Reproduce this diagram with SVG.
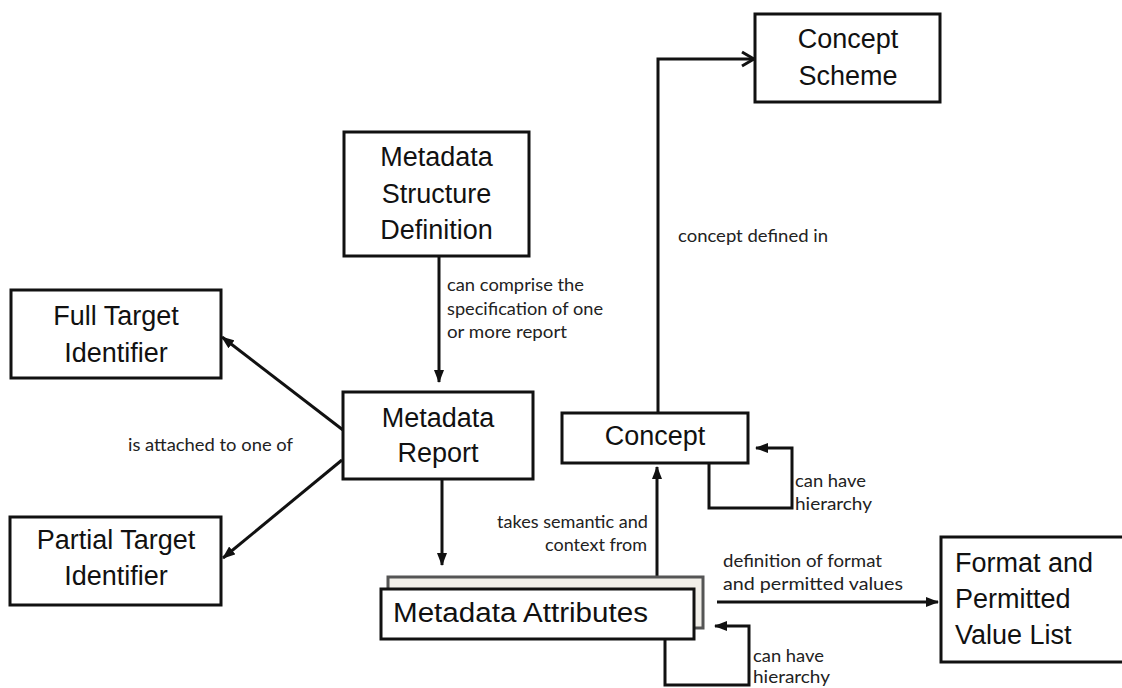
<svg xmlns="http://www.w3.org/2000/svg" width="1122" height="688" viewBox="0 0 1122 688">
<style>
.box{fill:#fff;stroke:#111;stroke-width:3}
.back{fill:#f1efe9;stroke:#555;stroke-width:3}
.big{font-family:"Liberation Sans",Arial,sans-serif;font-size:27px;fill:#111}
.mid{text-anchor:middle}
.lbl{font-family:Lato,"Open Sans",sans-serif;font-size:16.5px;fill:#222}
.con{fill:none;stroke:#111;stroke-width:3}
</style>
<defs>
<marker id="ah" markerUnits="userSpaceOnUse" markerWidth="13" markerHeight="10" refX="12" refY="5" orient="auto">
<path d="M0,0 L13,5 L0,10 z" fill="#111"/>
</marker>
<marker id="chev" markerUnits="userSpaceOnUse" markerWidth="16" markerHeight="18" refX="14" refY="9" orient="auto">
<path d="M2,2 L14,9 L2,16" fill="none" stroke="#111" stroke-width="3"/>
</marker>
</defs>
<rect width="1122" height="688" fill="#fff"/>

<g id="connectors">
<line class="con" x1="439" y1="256" x2="439" y2="382" marker-end="url(#ah)"/>
<line class="con" x1="442" y1="480" x2="442" y2="565" marker-end="url(#ah)"/>
<line class="con" x1="343" y1="430" x2="222" y2="337" marker-end="url(#ah)"/>
<line class="con" x1="342" y1="460" x2="223" y2="558" marker-end="url(#ah)"/>
<line class="con" x1="657" y1="577" x2="657" y2="467" marker-end="url(#ah)"/>
<path class="con" d="M658,413 V59 H754" marker-end="url(#chev)"/>
<path class="con" d="M709,463 V508 H792 V448 H756" marker-end="url(#ah)"/>
<path class="con" d="M665,639 V685 H749 V626 H715" marker-end="url(#ah)"/>
<line class="con" x1="717" y1="602" x2="938" y2="602" marker-end="url(#ah)"/>
</g>

<g id="labels">
<text class="lbl" x="447" y="291" textLength="137" lengthAdjust="spacingAndGlyphs">can comprise the</text>
<text class="lbl" x="447" y="315" textLength="156" lengthAdjust="spacingAndGlyphs">specification of one</text>
<text class="lbl" x="447" y="338" textLength="120" lengthAdjust="spacingAndGlyphs">or more report</text>
<text class="lbl" x="128" y="451" textLength="165" lengthAdjust="spacingAndGlyphs">is attached to one of</text>
<text class="lbl" x="678" y="242" textLength="150" lengthAdjust="spacingAndGlyphs">concept defined in</text>
<text class="lbl" x="497" y="528" textLength="151" lengthAdjust="spacingAndGlyphs">takes semantic and</text>
<text class="lbl" x="545" y="551" textLength="102" lengthAdjust="spacingAndGlyphs">context from</text>
<text class="lbl" x="795" y="487" textLength="71" lengthAdjust="spacingAndGlyphs">can have</text>
<text class="lbl" x="795" y="510" textLength="77" lengthAdjust="spacingAndGlyphs">hierarchy</text>
<text class="lbl" x="723" y="567" textLength="159" lengthAdjust="spacingAndGlyphs">definition of format</text>
<text class="lbl" x="723" y="590" textLength="180" lengthAdjust="spacingAndGlyphs">and permitted values</text>
<text class="lbl" x="753" y="662" textLength="71" lengthAdjust="spacingAndGlyphs">can have</text>
<text class="lbl" x="753" y="683" textLength="77" lengthAdjust="spacingAndGlyphs">hierarchy</text>
</g>

<g id="concept-scheme">
<rect class="box" x="755" y="14" width="185" height="88"/>
<text class="big mid" x="848" y="48">Concept</text>
<text class="big mid" x="848" y="85">Scheme</text>
</g>

<g id="msd">
<rect class="box" x="344" y="132" width="185" height="124"/>
<text class="big mid" x="436.5" y="166">Metadata</text>
<text class="big mid" x="436.5" y="203">Structure</text>
<text class="big mid" x="436.5" y="239">Definition</text>
</g>

<g id="full-target">
<rect class="box" x="11" y="290" width="210" height="88"/>
<text class="big mid" x="116" y="325">Full Target</text>
<text class="big mid" x="116" y="362">Identifier</text>
</g>

<g id="metadata-report">
<rect class="box" x="343" y="392" width="190" height="87"/>
<text class="big mid" x="438" y="427">Metadata</text>
<text class="big mid" x="438" y="462">Report</text>
</g>

<g id="partial-target">
<rect class="box" x="10" y="517" width="211" height="88"/>
<text class="big mid" x="116" y="549">Partial Target</text>
<text class="big mid" x="116" y="585">Identifier</text>
</g>

<g id="concept">
<rect class="box" x="562" y="413" width="186" height="50"/>
<text class="big mid" x="655" y="445">Concept</text>
</g>

<g id="metadata-attributes">
<rect class="back" x="388" y="577" width="315" height="51"/>
<rect class="box" x="381" y="589" width="313" height="50"/>
<text class="big" x="393" y="622" textLength="255" lengthAdjust="spacingAndGlyphs">Metadata Attributes</text>
</g>

<g id="format">
<rect class="box" x="941" y="537" width="200" height="125"/>
<text class="big" x="955" y="572">Format and</text>
<text class="big" x="955" y="608">Permitted</text>
<text class="big" x="955" y="644">Value List</text>
</g>
</svg>
